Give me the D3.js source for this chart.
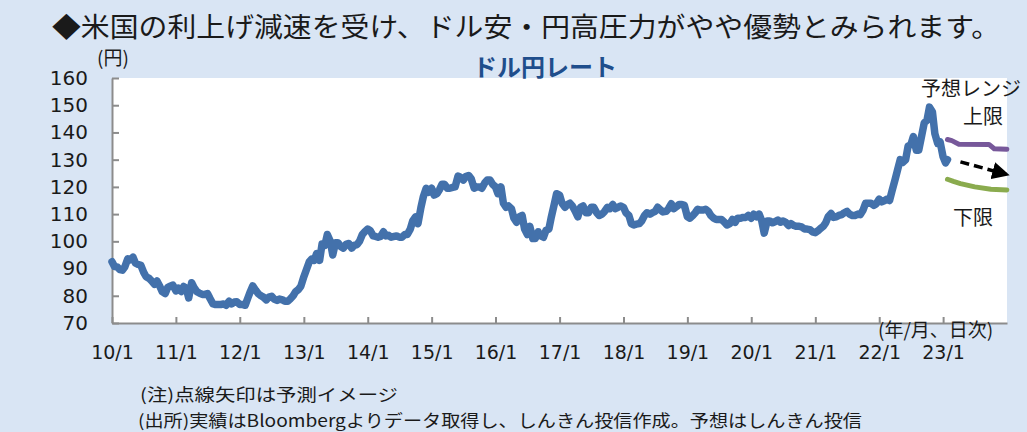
<!DOCTYPE html>
<html>
<head>
<meta charset="utf-8">
<script src="https://cdn.jsdelivr.net/npm/d3@7"></script>
<style>
  body { margin: 0; background: #d9e5f4; }
  svg { display: block; }
  .axis path, .axis line { stroke: #8c8c8c; stroke-width: 2px; }
  .axis text { font-family: "DejaVu Sans", sans-serif; fill: #1a1a1a; }
  .jp { font-family: "Noto Sans CJK JP", sans-serif; fill: #1a1a1a; }
</style>
</head>
<body>
<div id="chart"></div>
<script>
// semi-monthly USD/JPY (1st and 15th of each month)
var rate2010 = [92.5, 90.8, 90.5, 89.6, 89.4, 90.6, 93.6, 93.2, 94.2, 92.0, 91.5, 91.2, 88.6, 87.0, 86.4, 85.5, 84.2, 85.4, 83.5, 81.5, 80.8, 83.0, 83.6, 83.9];
var rate2011 = [81.8, 82.8, 81.6, 83.4, 82.8, 79.2, 84.8, 83.0, 81.5, 81.0, 80.5, 80.5, 80.8, 79.0, 77.0, 76.8, 76.8, 76.8, 77.0, 76.5, 78.0, 77.0, 77.7, 77.8];
var rate2012 = [76.8, 76.8, 76.5, 79.0, 81.5, 83.6, 82.0, 80.8, 80.0, 79.5, 78.5, 79.5, 79.8, 78.8, 78.3, 78.8, 78.5, 78.0, 78.0, 78.8, 80.0, 81.5, 82.3, 83.5];
var rate2013 = [87.0, 89.5, 92.5, 93.5, 93.0, 95.5, 93.0, 99.0, 98.5, 102.5, 100.0, 95.0, 99.5, 99.5, 98.0, 97.5, 99.0, 99.2, 97.5, 98.5, 98.8, 100.0, 102.5, 103.5];
var rate2014 = [104.5, 104.0, 102.0, 101.8, 101.5, 101.8, 103.5, 102.0, 102.2, 101.5, 101.8, 102.0, 101.5, 101.5, 102.5, 102.5, 104.5, 107.5, 109.0, 106.5, 112.5, 116.5, 119.5, 118.0];
var rate2015 = [119.5, 117.0, 117.5, 119.0, 121.0, 121.0, 119.5, 119.5, 119.8, 120.0, 124.0, 123.5, 122.5, 123.8, 124.2, 123.0, 119.5, 120.0, 120.0, 119.5, 121.5, 122.5, 122.5, 121.0];
var rate2016 = [120.0, 117.5, 120.0, 114.0, 112.5, 113.0, 112.0, 108.5, 107.0, 109.0, 109.5, 104.5, 102.5, 105.5, 101.0, 101.0, 103.5, 102.0, 101.5, 104.0, 104.5, 109.0, 113.5, 117.5];
var rate2017 = [117.0, 114.0, 112.5, 113.5, 114.0, 113.0, 111.0, 109.0, 112.5, 113.0, 110.5, 110.5, 112.5, 112.5, 110.5, 109.5, 110.0, 111.0, 112.5, 112.0, 113.5, 112.0, 112.5, 113.0];
var rate2018 = [112.5, 110.5, 109.5, 106.5, 106.0, 106.3, 106.5, 107.5, 109.5, 110.5, 110.0, 110.5, 111.0, 112.5, 111.5, 110.8, 111.0, 112.0, 113.8, 112.0, 112.8, 113.5, 113.5, 113.2];
var rate2019 = [109.0, 108.5, 109.5, 110.5, 111.8, 111.5, 111.5, 111.8, 111.0, 109.5, 108.5, 108.0, 108.0, 108.0, 107.0, 106.0, 106.5, 108.0, 107.0, 108.5, 108.5, 108.8, 108.8, 109.5];
var rate2020 = [108.5, 110.0, 109.0, 110.0, 107.5, 103.0, 107.5, 107.5, 106.8, 107.2, 107.8, 107.0, 107.5, 107.0, 105.8, 106.5, 105.8, 105.5, 105.5, 105.3, 104.5, 104.5, 104.3, 103.5];
var rate2021 = [103.2, 103.8, 104.8, 105.5, 106.8, 109.0, 110.2, 108.8, 109.0, 109.5, 109.8, 110.5, 111.0, 110.0, 109.5, 109.5, 110.0, 109.8, 111.5, 114.0, 114.0, 114.0, 113.2, 113.8];
var rate2022 = [115.5, 114.5, 115.0, 115.5, 115.0, 118.5, 122.5, 126.0, 130.0, 129.0, 130.0, 135.0, 135.5, 138.5, 133.5, 133.5, 139.0, 143.5, 144.5, 149.3, 147.5, 139.5, 136.0, 136.5];
var dates2023 = ["2023-01-01", "2023-01-15", "2023-01-26"];
var rate2023 = [131.0, 128.8, 130.0];

var yearlyRates = [rate2010, rate2011, rate2012, rate2013, rate2014, rate2015, rate2016,
                   rate2017, rate2018, rate2019, rate2020, rate2021, rate2022];

// forecast range
var upperDates = ["2023-01-26", "2023-02-20", "2023-04-01", "2023-09-20", "2023-10-20", "2023-12-31"];
var upperRates = [137.4, 137.0, 135.7, 135.6, 134.0, 133.8];
var lowerDates = ["2023-01-26", "2023-03-01", "2023-04-10", "2023-07-01", "2023-10-01", "2023-12-31"];
var lowerRates = [122.8, 122.0, 121.2, 120.0, 119.1, 118.9];
var arrowDates = ["2023-04-10", "2023-12-28"];
var arrowRates = [129.2, 124.6];

var xTickLabels = ["10/1", "11/1", "12/1", "13/1", "14/1", "15/1", "16/1", "17/1", "18/1", "19/1", "20/1", "21/1", "22/1", "23/1"];
var yTickValues = [70, 80, 90, 100, 110, 120, 130, 140, 150, 160];

var width = 1027;
var height = 432;
var plotLeft = 112, plotRight = 1007, plotTop = 78, plotBottom = 323;

var parseDate = d3.timeParse("%Y-%m-%d");

var series = [];
yearlyRates.forEach(function(arr, yi) {
  arr.forEach(function(v, i) {
    series.push({date: new Date(2010 + yi, Math.floor(i / 2), i % 2 ? 15 : 1), rate: v});
  });
});
dates2023.forEach(function(d, i) { series.push({date: parseDate(d), rate: rate2023[i]}); });

var upper = upperDates.map((d, i) => ({date: parseDate(d), rate: upperRates[i]}));
var lower = lowerDates.map((d, i) => ({date: parseDate(d), rate: lowerRates[i]}));
var arrow = arrowDates.map((d, i) => ({date: parseDate(d), rate: arrowRates[i]}));

var xScale = d3.scaleTime()
  .domain([new Date(2010, 0, 1), new Date(2024, 0, 1)])
  .range([plotLeft, plotRight]);

var yScale = d3.scaleLinear()
  .domain([70, 160])
  .range([plotBottom, plotTop]);

var svg = d3.select("#chart").append("svg")
  .attr("width", width)
  .attr("height", height);

svg.append("rect")
  .attr("x", plotLeft).attr("y", plotTop)
  .attr("width", plotRight - plotLeft).attr("height", plotBottom - plotTop)
  .attr("fill", "#fff");

// title
svg.append("text")
  .attr("class", "jp")
  .attr("x", 52).attr("y", 37)
  .attr("font-size", 27)
  .attr("textLength", 948)
  .attr("lengthAdjust", "spacingAndGlyphs")
  .text("◆米国の利上げ減速を受け、ドル安・円高圧力がやや優勢とみられます。");

svg.append("text")
  .attr("class", "jp")
  .attr("x", 545).attr("y", 76)
  .attr("text-anchor", "middle")
  .attr("font-size", 24)
  .attr("font-weight", "bold")
  .style("fill", "#1f4e8c")
  .text("ドル円レート");

svg.append("text")
  .attr("class", "jp")
  .attr("x", 97).attr("y", 65)
  .attr("font-size", 19)
  .text("(円)");

var xAxis = d3.axisBottom(xScale)
  .tickValues(xTickLabels.map(function(s) {
    var p = s.split("/");
    return new Date(2000 + +p[0], +p[1] - 1, 1);
  }))
  .tickFormat(function(d, i) { return xTickLabels[i]; })
  .tickSizeInner(-6)
  .tickSizeOuter(0)
  .tickPadding(23);

var yAxis = d3.axisLeft(yScale)
  .tickValues(yTickValues)
  .tickSizeInner(-7)
  .tickSizeOuter(0)
  .tickPadding(24);

svg.append("g")
  .attr("class", "x axis")
  .attr("transform", `translate(0, ${plotBottom})`)
  .call(xAxis)
  .selectAll("text").attr("font-size", 19);

svg.append("g")
  .attr("class", "y axis")
  .attr("transform", `translate(${plotLeft}, 0)`)
  .call(yAxis)
  .selectAll("text").attr("font-size", 20);

var line = d3.line()
  .x(d => xScale(d.date))
  .y(d => yScale(d.rate));

svg.append("path")
  .attr("d", line(series))
  .attr("fill", "none")
  .attr("stroke", "#4371ab")
  .attr("stroke-width", 7.5)
  .attr("stroke-linejoin", "round")
  .attr("stroke-linecap", "round");

svg.append("path")
  .attr("d", line(upper))
  .attr("fill", "none")
  .attr("stroke", "#77589a")
  .attr("stroke-width", 5)
  .attr("stroke-linejoin", "round")
  .attr("stroke-linecap", "round");

svg.append("path")
  .attr("d", line(lower))
  .attr("fill", "none")
  .attr("stroke", "#8aab4e")
  .attr("stroke-width", 5)
  .attr("stroke-linejoin", "round")
  .attr("stroke-linecap", "round");

svg.append("defs").append("marker")
  .attr("id", "head")
  .attr("viewBox", "0 0 10 10")
  .attr("refX", 8).attr("refY", 5)
  .attr("markerWidth", 5).attr("markerHeight", 5)
  .attr("orient", "auto")
  .append("path")
  .attr("d", "M0,0L10,5L0,10z")
  .attr("fill", "#000");

svg.append("path")
  .attr("d", line(arrow))
  .attr("fill", "none")
  .attr("stroke", "#000")
  .attr("stroke-width", 3.5)
  .attr("stroke-dasharray", "9,5")
  .attr("marker-end", "url(#head)");

// range labels
var labels = [
  {t: "予想レンジ", x: 921, y: 96, s: 20},
  {t: "上限", x: 963, y: 124, s: 20},
  {t: "下限", x: 953, y: 225, s: 20},
  {t: "(年/月、日次)", x: 878, y: 337, s: 19}
];
labels.forEach(function(l) {
  svg.append("text")
    .attr("class", "jp")
    .attr("x", l.x).attr("y", l.y)
    .attr("font-size", l.s)
    .text(l.t);
});

// notes
svg.append("text")
  .attr("class", "jp")
  .attr("x", 140).attr("y", 401)
  .attr("font-size", 17)
  .attr("textLength", 258)
  .attr("lengthAdjust", "spacingAndGlyphs")
  .text("(注)点線矢印は予測イメージ");

svg.append("text")
  .attr("class", "jp")
  .attr("x", 138).attr("y", 427)
  .attr("font-size", 17)
  .attr("textLength", 724)
  .attr("lengthAdjust", "spacingAndGlyphs")
  .text("(出所)実績はBloombergよりデータ取得し、しんきん投信作成。予想はしんきん投信");
</script>
</body>
</html>
